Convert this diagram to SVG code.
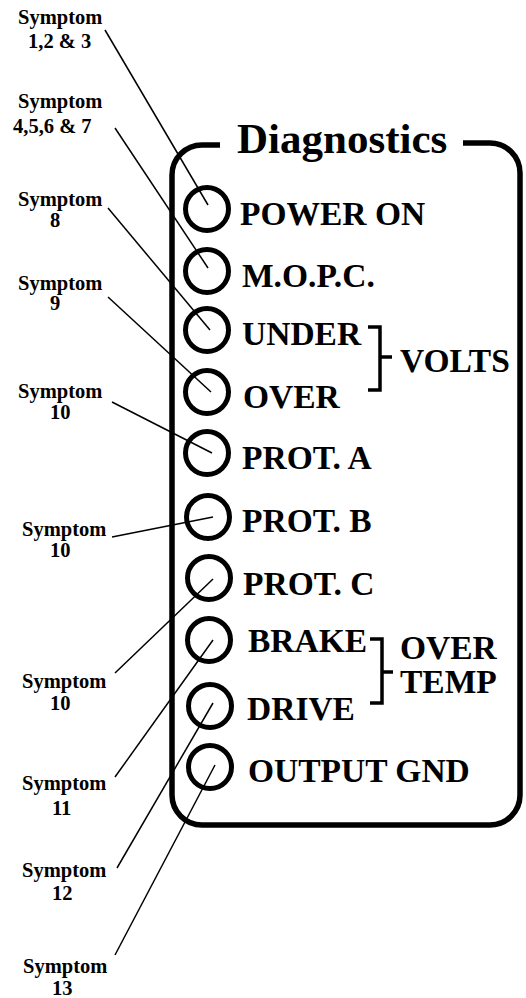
<svg xmlns="http://www.w3.org/2000/svg" width="526" height="998" viewBox="0 0 526 998">
<style>
.s{font-size:20.5px}
.l{font-size:33.5px}
.t{font-size:43px}
.led{fill:none;stroke:#000;stroke-width:5}
.ln{stroke:#000;stroke-width:1.5;fill:none}
.br{stroke:#000;stroke-width:3.5;fill:none}
.box{stroke:#000;stroke-width:5.5;fill:none}
</style>
<rect width="526" height="998" fill="#fff"/>
<g font-family="Liberation Serif, Times New Roman, serif" font-weight="bold" fill="#000">
<g id="panel">
<path class="box" d="M220 145 H202 A30 30 0 0 0 172 175 V795 A30 30 0 0 0 202 825 H490 A30 30 0 0 0 520 795 V173 A30 30 0 0 0 490 143 H463"/>
<text class="t" x="237" y="153">Diagnostics</text>
</g>
<g id="connectors">
<line class="ln" x1="105" y1="30" x2="208" y2="205"/>
<line class="ln" x1="115" y1="128" x2="208" y2="268"/>
<line class="ln" x1="108" y1="208" x2="210" y2="330"/>
<line class="ln" x1="108" y1="297" x2="211" y2="392"/>
<line class="ln" x1="112" y1="402" x2="212" y2="453"/>
<line class="ln" x1="112" y1="537" x2="213" y2="517"/>
<line class="ln" x1="115" y1="673" x2="213" y2="579"/>
<line class="ln" x1="115" y1="777" x2="213" y2="640"/>
<line class="ln" x1="117" y1="868" x2="213" y2="703"/>
<line class="ln" x1="115" y1="955" x2="215" y2="765"/>
</g>
<g id="power-on"><circle class="led" cx="207" cy="209" r="21.5"/><text class="l" x="240" y="225">POWER ON</text></g>
<g id="mopc"><circle class="led" cx="207" cy="271" r="21.5"/><text class="l" x="242" y="287">M.O.P.C.</text></g>
<g id="under"><circle class="led" cx="207" cy="330" r="21.5"/><text class="l" x="242" y="345">UNDER</text></g>
<g id="over"><circle class="led" cx="207" cy="392" r="21.5"/><text class="l" x="243" y="408">OVER</text></g>
<g id="volts"><path class="br" d="M368 327 H380 V390 H368 M380 357 H392"/><text class="l" x="400" y="372">VOLTS</text></g>
<g id="prot-a"><circle class="led" cx="207" cy="453" r="21.5"/><text class="l" x="242" y="469">PROT. A</text></g>
<g id="prot-b"><circle class="led" cx="208" cy="517" r="21.5"/><text class="l" x="242" y="532">PROT. B</text></g>
<g id="prot-c"><circle class="led" cx="209" cy="578" r="21.5"/><text class="l" x="243" y="595">PROT. C</text></g>
<g id="brake"><circle class="led" cx="209" cy="640" r="21.5"/><text class="l" x="248" y="652">BRAKE</text></g>
<g id="drive"><circle class="led" cx="210" cy="706" r="21.5"/><text class="l" x="247" y="720">DRIVE</text></g>
<g id="overtemp"><path class="br" d="M370 639 H382 V703 H370 M382 672 H393"/><text class="l" x="400" y="659">OVER</text><text class="l" x="400" y="693">TEMP</text></g>
<g id="output-gnd"><circle class="led" cx="210" cy="767" r="21.5"/><text class="l" x="248" y="782">OUTPUT GND</text></g>
<g id="labels">
<text class="s" x="18" y="24">Symptom</text><text class="s" x="28" y="48">1,2 &amp; 3</text>
<text class="s" x="18" y="108">Symptom</text><text class="s" x="13" y="133">4,5,6 &amp; 7</text>
<text class="s" x="18" y="206">Symptom</text><text class="s" x="50" y="227">8</text>
<text class="s" x="18" y="290">Symptom</text><text class="s" x="50" y="310">9</text>
<text class="s" x="18" y="398">Symptom</text><text class="s" x="50" y="419">10</text>
<text class="s" x="22" y="536">Symptom</text><text class="s" x="50" y="557">10</text>
<text class="s" x="22" y="688">Symptom</text><text class="s" x="50" y="710">10</text>
<text class="s" x="22" y="790">Symptom</text><text class="s" x="52" y="815">11</text>
<text class="s" x="22" y="877">Symptom</text><text class="s" x="52" y="900">12</text>
<text class="s" x="23" y="973">Symptom</text><text class="s" x="52" y="995">13</text>
</g>
</g>
</svg>
